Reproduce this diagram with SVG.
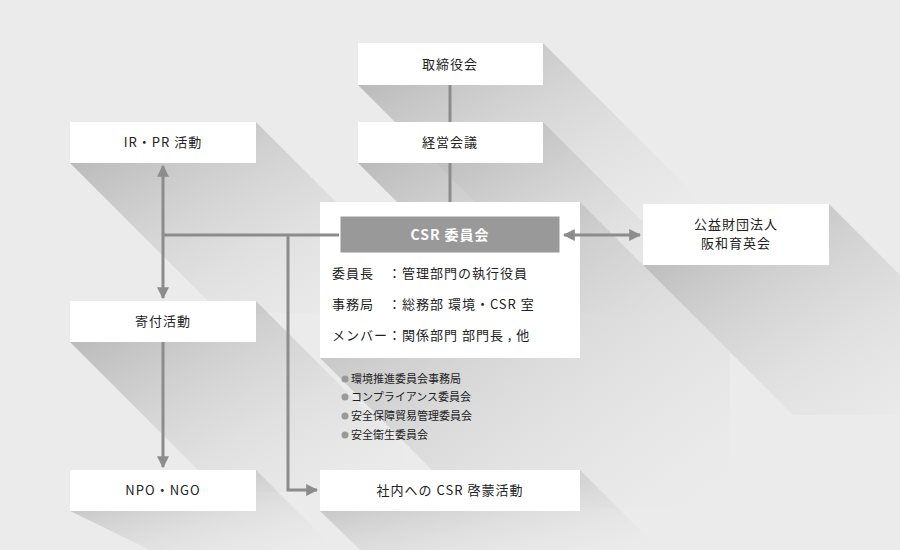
<svg xmlns="http://www.w3.org/2000/svg" width="900" height="550" viewBox="0 0 900 550">
<defs>
<linearGradient id="sh" x1="0" y1="0" x2="1" y2="1"><stop offset="0" stop-color="#a8a8a8" stop-opacity="0.9"/><stop offset="0.8" stop-color="#d8d8d8" stop-opacity="0.2"/><stop offset="1" stop-color="#ebebeb" stop-opacity="0"/></linearGradient>
<marker id="ar" viewBox="0 0 10 10" refX="9" refY="5" markerWidth="4" markerHeight="4" orient="auto-start-reverse"><path d="M0,0L10,5L0,10z" fill="#8c8c8c"/></marker>
</defs>
<style>
.b{fill:#fff}.s{fill:url(#sh)}
text{font-family:"Noto Sans CJK JP","Noto Sans",sans-serif;font-size:13px;fill:#222;text-anchor:middle;letter-spacing:1px}
.l{stroke:#8c8c8c;stroke-width:3;fill:none}
.t{text-anchor:start;font-size:13px}
.u{text-anchor:start;font-size:11px;letter-spacing:0}
</style>
<rect width="900" height="550" fill="#ebebeb"/>
<g id="shadows">
<polygon class="s" points="543,43 693,193 693,235 508,235 358,85"/>
<polygon class="s" points="543,122 693,272 693,313 508,313 358,163"/>
<polygon class="s" points="256,122 406,272 406,313 220,313 70,163"/>
<polygon class="s" points="580,202 730,352 730,508 470,508 320,358"/>
<polygon class="s" points="829,204 979,354 979,415 793,415 643,265"/>
<polygon class="s" points="256,301 406,451 406,492 220,492 70,342"/>
<polygon class="s" points="256,470 336,550 150,550 70,511"/>
<polygon class="s" points="580,470 660,550 360,550 320,511"/>
</g>
<g id="n1"><rect class="b" x="358" y="43" width="185" height="42"/><text x="450" y="69">取締役会</text></g>
<g id="n2"><rect class="b" x="358" y="122" width="185" height="41"/><text x="450" y="147">経営会議</text></g>
<g id="n3"><rect class="b" x="70" y="122" width="186" height="41"/><text x="163" y="147">IR・PR 活動</text></g>
<g id="n4"><rect class="b" x="320" y="202" width="260" height="156"/>
<rect x="340" y="216" width="220" height="37" fill="#999" stroke="#fff" stroke-width="1"/>
<text x="450" y="240" style="fill:#fff;font-size:14px;font-weight:bold">CSR 委員会</text>
<text class="t" x="332" y="278">委員長　：管理部門の執行役員</text>
<text class="t" x="332" y="309">事務局　：総務部 環境・CSR 室</text>
<text class="t" x="332" y="340">メンバー：関係部門 部門長 , 他</text></g>
<g id="n5"><rect class="b" x="643" y="204" width="186" height="61"/><text x="736" y="229">公益財団法人</text><text x="736" y="248">阪和育英会</text></g>
<g id="n6"><rect class="b" x="70" y="301" width="186" height="41"/><text x="163" y="326">寄付活動</text></g>
<g id="n7"><rect class="b" x="70" y="470" width="186" height="41"/><text x="163" y="495">NPO・NGO</text></g>
<g id="n8"><rect class="b" x="320" y="470" width="260" height="41"/><text x="450" y="495">社内への CSR 啓蒙活動</text></g>
<g id="list" fill="#999">
<circle cx="345" cy="379" r="3.5"/><circle cx="345" cy="397" r="3.5"/><circle cx="345" cy="416" r="3.5"/><circle cx="345" cy="435" r="3.5"/>
<text class="u" x="351" y="383">環境推進委員会事務局</text>
<text class="u" x="351" y="401">コンプライアンス委員会</text>
<text class="u" x="351" y="420">安全保障貿易管理委員会</text>
<text class="u" x="351" y="439">安全衛生委員会</text>
</g>
<g id="connectors">
<path class="l" d="M450,85V122M450,163V202"/>
<path class="l" d="M163,235H339"/>
<path class="l" d="M163,235V166" marker-end="url(#ar)"/>
<path class="l" d="M163,235V298" marker-end="url(#ar)"/>
<path class="l" d="M163,342V467" marker-end="url(#ar)"/>
<path class="l" d="M288,235V490H317" marker-end="url(#ar)"/>
<path class="l" d="M564,235H640" marker-start="url(#ar)" marker-end="url(#ar)"/>
</g>
</svg>
